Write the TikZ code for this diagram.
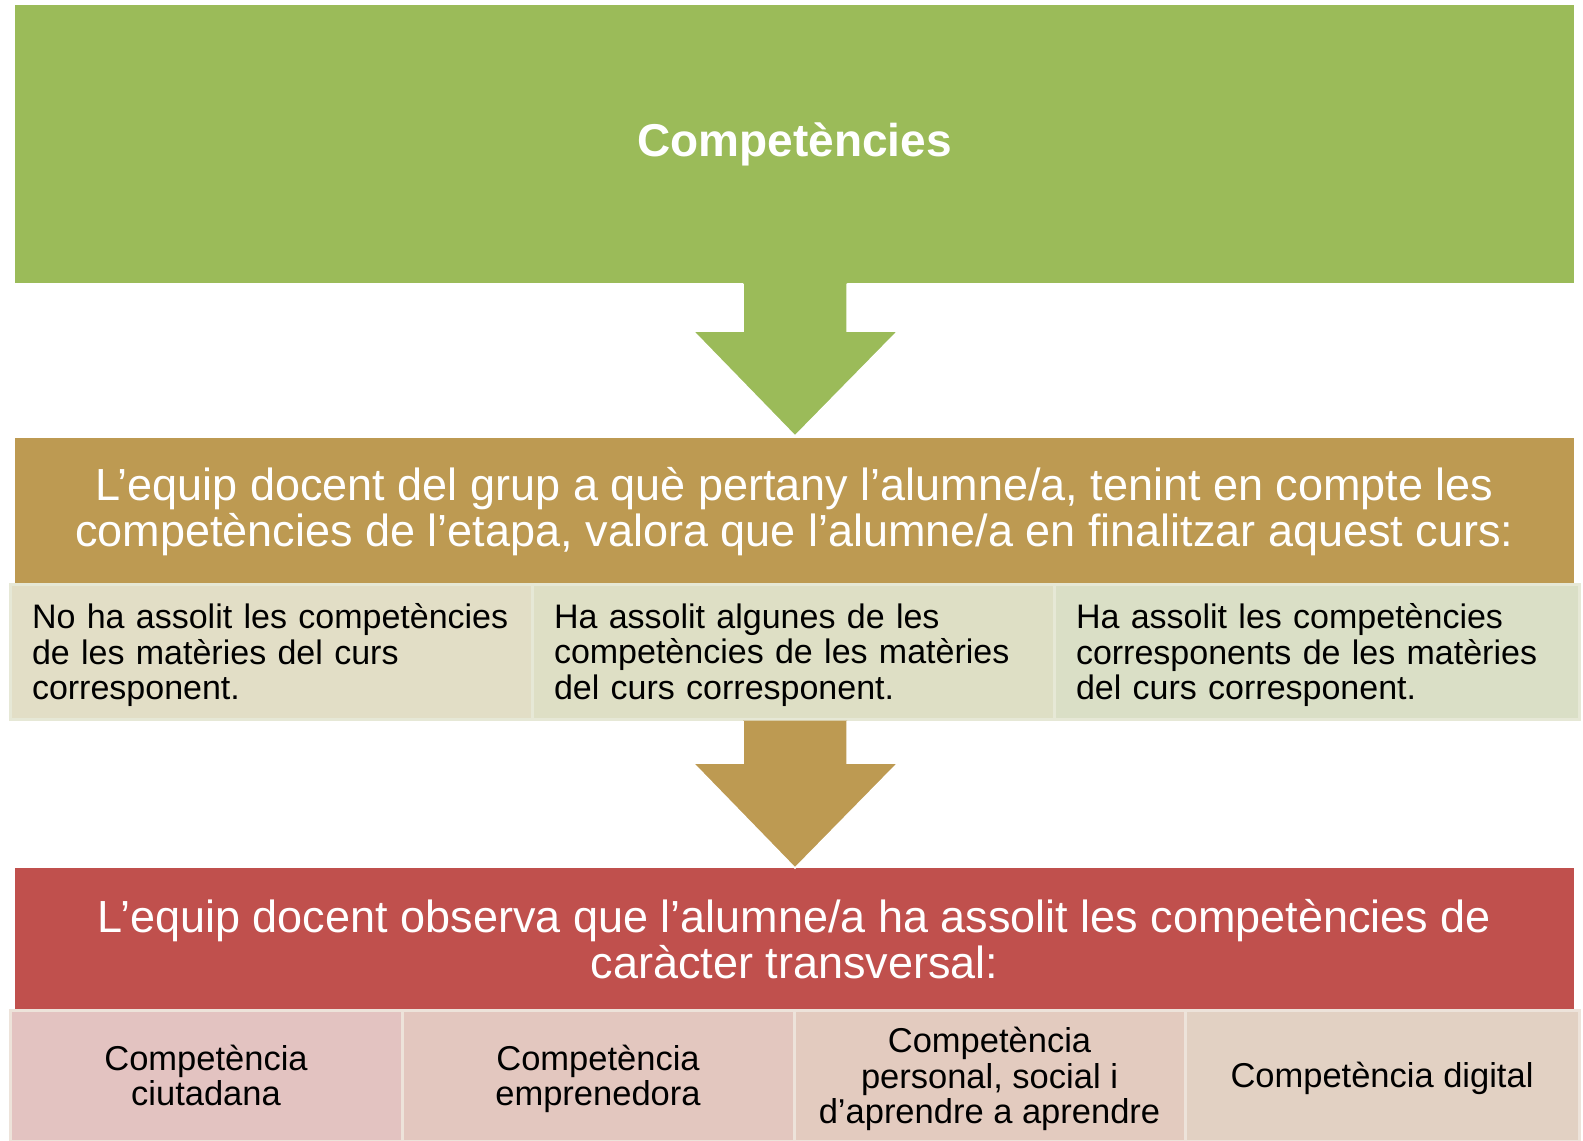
\documentclass[tikz,border=0pt]{standalone}
\usepackage{fontspec}
\setmainfont{Liberation Sans}
\definecolor{cgreen}{HTML}{9BBB59}
\definecolor{cgold}{HTML}{BD9A52}
\definecolor{cred}{HTML}{C0504D}
\definecolor{lA}{HTML}{E2DEC6}
\definecolor{lB}{HTML}{DEDFC5}
\definecolor{lC}{HTML}{DADFC6}
\definecolor{lborder}{HTML}{E6E8D6}
\definecolor{pA}{HTML}{E3C3C1}
\definecolor{pB}{HTML}{E3C7BF}
\definecolor{pC}{HTML}{E3CBBF}
\definecolor{pD}{HTML}{E2D1C3}
\definecolor{pborder}{HTML}{EDE3DA}
\begin{document}
\begin{tikzpicture}[x=1pt,y=-1pt,
  hdr/.style={rectangle, inner sep=0pt, text=white, align=center,
    minimum width=1559pt, font=\fontsize{45}{46.5}\selectfont},
  lbox/.style={rectangle, draw=lborder, line width=3pt, inner xsep=22pt, inner ysep=0pt,
    minimum height=135pt, align=left, font=\fontsize{34}{35.5}\selectfont},
  pbox/.style={rectangle, draw=pborder, line width=3pt, inner sep=0pt,
    minimum height=131pt, align=center, font=\fontsize{34.5}{35.5}\selectfont}]
\useasboundingbox (0,0) rectangle (1583,1141);
\fill[white] (0,0) rectangle (1583,1141);
% top box
\node[hdr, fill=cgreen, minimum height=278pt, font=\fontsize{46}{52}\selectfont\bfseries] (top) at (794.5,144) {Competències};
% gold box
\node[hdr, fill=cgold, minimum height=148pt] (mid) at (794.5,511.5)
  {L’equip docent del grup a què pertany l’alumne/a, tenint en compte les\\competències de l’etapa, valora que l’alumne/a en finalitzar aquest curs:};
% green arrow
\fill[cgreen] (743,280) -- (743,331) -- (693,331) -- (795,436) -- (898,331) -- (847,331) -- (847,280) -- cycle;
\draw[white, line width=1.5pt] (743,283.5) -- (743,331) -- (693,331) -- (795,436) -- (898,331) -- (847,331) -- (847,283.5);
\fill[cgreen] (744,278) rectangle (846,284);
% light boxes
\node[lbox, fill=lA, text width=478pt] (la) at (271,651.5)
  {No ha assolit les competències\\de les matèries del curs\\\smash{corresponent.}};
\node[lbox, fill=lB, text width=478pt] (lb) at (793,651.5)
  {Ha assolit algunes de les\\competències de les matèries\\\smash{del curs corresponent.}};
\node[lbox, fill=lC, text width=481pt] (lc) at (1316.5,651.5)
  {Ha assolit les competències\\corresponents de les matèries\\\smash{del curs corresponent.}};
% red box
\node[hdr, fill=cred, minimum height=142pt] (low) at (794.5,939)
  {L’equip docent observa que l’alumne/a ha assolit les competències de\\caràcter transversal:};
% gold arrow
\fill[cgold] (743,720.5) -- (743,763) -- (693,763) -- (795,868) -- (898,763) -- (847,763) -- (847,720.5) -- cycle;
\draw[white, line width=1.5pt] (743,721) -- (743,763) -- (693,763) -- (795,868) -- (898,763) -- (847,763) -- (847,721);
% pink boxes
\node[pbox, fill=pA, minimum width=392pt] (pa) at (206,1075.5) {Competència\\ciutadana};
\node[pbox, fill=pB, minimum width=392pt] (pb) at (598,1075.5) {Competència\\\smash{emprenedora}};
\node[pbox, fill=pC, minimum width=391pt] (pc) at (989.5,1075.5) {Competència\\personal, social i\\\smash{d’aprendre a aprendre}};
\node[pbox, fill=pD, minimum width=394pt] (pd) at (1382,1075.5) {\vphantom{C}\smash{Competència digital}};
\end{tikzpicture}
\end{document}
